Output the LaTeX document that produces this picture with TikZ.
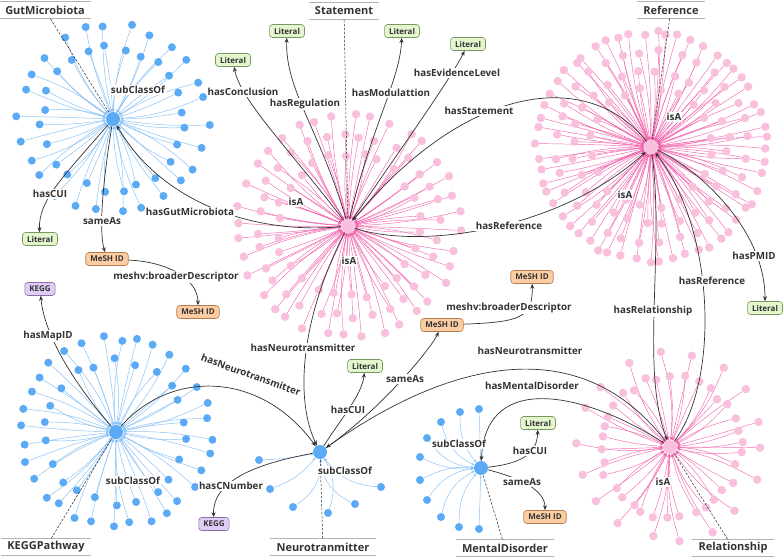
\documentclass[tikz,border=0pt]{standalone}
\usepackage{fontspec}
\setmainfont{Open Sans}
\usetikzlibrary{arrows.meta}

\definecolor{dotblue}{RGB}{90,170,245}
\definecolor{lineblue}{RGB}{140,195,245}
\definecolor{dotpink}{RGB}{249,192,221}
\definecolor{linepink}{RGB}{242,105,176}
\definecolor{edgegray}{RGB}{51,51,51}
\definecolor{litfill}{RGB}{228,246,206}
\definecolor{litdraw}{RGB}{120,150,95}
\definecolor{meshfill}{RGB}{252,205,162}
\definecolor{meshdraw}{RGB}{180,125,80}
\definecolor{keggfill}{RGB}{224,205,245}
\definecolor{keggdraw}{RGB}{135,112,165}

\tikzset{
  hubb/.style={circle, fill=dotblue, inner sep=0pt, minimum size=14pt},
  hubp/.style={circle, fill=dotpink, inner sep=0pt, minimum size=14pt},
  leafb/.style={circle, fill=dotblue, inner sep=0pt, minimum size=8pt},
  leafp/.style={circle, fill=dotpink, inner sep=0pt, minimum size=8.5pt},
  spokeb/.style={draw=lineblue, line width=0.5pt, -{Stealth[length=3pt, width=2.6pt]}},
  spokep/.style={draw=linepink, line width=0.45pt, -{Stealth[length=3pt, width=2.6pt]}},
  propedge/.style={draw=edgegray, line width=0.7pt, -{Stealth[length=5pt, width=4pt]}},
  plabel/.style={fill=white, inner sep=1pt, text=edgegray, font=\bfseries\fontsize{9.8}{11}\selectfont},
  classname/.style={text=edgegray, inner xsep=6pt, inner ysep=0pt, minimum height=17pt, font=\bfseries\fontsize{11}{13}\selectfont},
  classrule/.style={draw=gray!60, line width=0.8pt},
  classlink/.style={draw=black!85, line width=0.5pt, dash pattern=on 2.5pt off 1.5pt},
  boxbase/.style={rounded corners=3pt, line width=0.6pt, inner xsep=4.5pt, inner ysep=1pt, minimum height=13pt, text=edgegray, font=\bfseries\fontsize{8}{9}\selectfont},
  litbox/.style={boxbase, draw=litdraw, fill=litfill},
  meshbox/.style={boxbase, draw=meshdraw, fill=meshfill},
  keggbox/.style={boxbase, draw=keggdraw, fill=keggfill},
}

\begin{document}
\begin{tikzpicture}[x=1pt, y=-1pt]
    \useasboundingbox (0,0) rectangle (784,558);
    \pgfmathsetseed{17}

    % class hubs
    \node[hubb] (gut) at (113,119) {};
    \node[hubp] (stm) at (348,226) {};
    \node[hubp] (refc) at (651,147) {};
    \node[hubb] (kpw) at (116,432) {};
    \node[hubb] (ntm) at (320,452) {};
    \node[hubb] (mdis) at (481,468) {};
    \node[hubp] (rship) at (670,447) {};

    % instances
    \foreach \rr/\nn/\oo in {94/26/0, 71/24/6} {
        \foreach \i in {1,...,\nn} {
            \pgfmathsetmacro\aa{\oo+\i*(360/\nn)+5*rnd}
            \pgfmathsetmacro\dd{\rr+6*rnd-3}
            \pgfmathsetmacro\bb{20*rnd-10}
            \node[leafb] (gut-\rr-\i) at ([shift={(\aa:\dd)}]gut) {};
            \draw[spokeb] (gut-\rr-\i) to[bend left=\bb] (gut);
        }
    }
    \foreach \rr/\nn/\oo in {94/32/0, 71/22/5} {
        \foreach \i in {1,...,\nn} {
            \pgfmathsetmacro\aa{\oo+\i*(360/\nn)+5*rnd}
            \pgfmathsetmacro\dd{\rr+6*rnd-3}
            \pgfmathsetmacro\bb{20*rnd-10}
            \node[leafb] (kpw-\rr-\i) at ([shift={(\aa:\dd)}]kpw) {};
            \draw[spokeb] (kpw-\rr-\i) to[bend left=\bb] (kpw);
        }
    }
    \foreach \rr/\nn/\oo in {111/36/0, 91/32/5, 71/26/2} {
        \foreach \i in {1,...,\nn} {
            \pgfmathsetmacro\aa{\oo+\i*(360/\nn)+5*rnd}
            \pgfmathsetmacro\dd{\rr+6*rnd-3}
            \pgfmathsetmacro\bb{14*rnd-7}
            \node[leafp] (stm-\rr-\i) at ([shift={(\aa:\dd)}]stm) {};
            \draw[spokep] (stm-\rr-\i) to[bend left=\bb] (stm);
        }
    }
    \foreach \rr/\nn/\oo in {114/56/0, 96/32/4, 77/28/2, 60/20/7} {
        \foreach \i in {1,...,\nn} {
            \pgfmathsetmacro\aa{\oo+\i*(360/\nn)+4*rnd}
            \pgfmathsetmacro\dd{\rr+5*rnd-2.5}
            \pgfmathsetmacro\bb{14*rnd-7}
            \node[leafp] (refc-\rr-\i) at ([shift={(\aa:\dd)}]refc) {};
            \draw[spokep] (refc-\rr-\i) to[bend left=\bb] (refc);
        }
    }
    \foreach \rr/\nn/\oo in {93/18/0, 70/34/4} {
        \foreach \i in {1,...,\nn} {
            \pgfmathsetmacro\aa{\oo+\i*(360/\nn)+5*rnd}
            \pgfmathsetmacro\dd{\rr+6*rnd-3}
            \pgfmathsetmacro\bb{24*rnd-12}
            \node[leafp] (rship-\rr-\i) at ([shift={(\aa:\dd)}]rship) {};
            \draw[spokep] (rship-\rr-\i) to[bend left=\bb] (rship);
        }
    }
    \foreach \dx/\dy/\bb [count=\i] in {-61/8/-5, -50/37/-15, -27/55/-30, 8/61/-25, 35/52/30, 61/35/25} {
        \node[leafb] (ntm-\i) at ([shift={(\dx,\dy)}]ntm) {};
        \draw[spokeb] (ntm-\i) to[bend left=\bb] (ntm);
    }
    \foreach \dx/\dy/\bb [count=\i] in {-21/-56/-20, -2/-59/0, -40/-46/-25, -54/-30/-25, -61/-11/-15, -61/12/15, -54/32/25, -40/49/25, -22/59/20, -2/61/0} {
        \node[leafb] (mdis-\i) at ([shift={(\dx,\dy)}]mdis) {};
        \draw[spokeb] (mdis-\i) to[bend left=\bb] (mdis);
    }

    % value boxes
    \node[litbox] (lit1) at (40,239) {Literal};
    \node[litbox] (lit2) at (233,60) {Literal};
    \node[litbox] (lit3) at (287,31) {Literal};
    \node[litbox] (lit4) at (402,31) {Literal};
    \node[litbox] (lit5) at (468,44) {Literal};
    \node[litbox] (lit6) at (765,308) {Literal};
    \node[litbox] (lit7) at (365,366) {Literal};
    \node[litbox] (lit8) at (538,423) {Literal};
    \node[meshbox] (mesh1) at (107,259) {MeSH ID};
    \node[meshbox] (mesh2) at (198,312) {MeSH ID};
    \node[meshbox] (mesh3) at (442,325) {MeSH ID};
    \node[meshbox] (mesh4) at (532,277) {MeSH ID};
    \node[meshbox] (mesh5) at (545,517) {MeSH ID};
    \node[keggbox] (kegg1) at (40,289) {KEGG};
    \node[keggbox] (kegg2) at (214,524) {KEGG};

    % class names
    \node[classname] (tgut) at (45,10) {GutMicrobiota};
    \node[classname] (tstm) at (344,11) {Statement};
    \node[classname] (tref) at (671,10) {Reference};
    \node[classname] (tkpw) at (46,547) {KEGGPathway};
    \node[classname] (tntm) at (323,547) {Neurotranmitter};
    \node[classname] (tmdis) at (505,548) {MentalDisorder};
    \node[classname] (trship) at (733,548) {Relationship};
    \foreach \t/\h in {tgut/gut, tstm/stm, tref/refc, tkpw/kpw, tntm/ntm, tmdis/mdis, trship/rship} {
        \draw[classrule] (\t.north west) -- (\t.north east);
        \draw[classrule] (\t.south west) -- (\t.south east);
        \draw[classlink] (\t) -- (\h);
    }

    % properties
    \draw[propedge] (gut) .. controls (65,175) and (38,200) .. (lit1);
    \draw[propedge] (gut) .. controls (100,200) and (100,235) .. (mesh1);
    \draw[propedge] (stm) .. controls (250,235) and (160,200) .. (gut);
    \draw[propedge] (mesh1) .. controls (170,262) and (198,280) .. (mesh2);
    \draw[propedge] (stm) .. controls (290,150) and (240,100) .. (lit2);
    \draw[propedge] (stm) .. controls (320,130) and (285,90) .. (lit3);
    \draw[propedge] (stm) .. controls (370,130) and (400,80) .. (lit4);
    \draw[propedge] (stm) .. controls (400,150) and (450,80) .. (lit5);
    \draw[propedge] (refc) .. controls (590,70) and (470,80) .. (stm);
    \draw[propedge] (stm) .. controls (420,250) and (560,230) .. (refc);
    \draw[propedge] (stm) .. controls (300,320) and (295,400) .. (ntm);
    \draw[propedge] (refc) .. controls (700,170) and (765,230) .. (lit6);
    \draw[propedge] (rship) .. controls (720,380) and (715,230) .. (refc);
    \draw[propedge] (refc) .. controls (665,250) and (640,370) .. (rship);
    \draw[propedge] (rship) .. controls (580,330) and (450,360) .. (ntm);
    \draw[propedge] (rship) .. controls (590,395) and (486,368) .. (mdis);
    \draw[propedge] (kpw) .. controls (80,390) and (45,340) .. (kegg1);
    \draw[propedge] (kpw) .. controls (170,370) and (260,370) .. (ntm);
    \draw[propedge] (ntm) .. controls (340,420) and (362,395) .. (lit7);
    \draw[propedge] (ntm) .. controls (380,410) and (430,350) .. (mesh3);
    \draw[propedge] (mesh3) .. controls (520,322) and (533,318) .. (mesh4);
    \draw[propedge] (ntm) .. controls (265,462) and (212,478) .. (kegg2);
    \draw[propedge] (mdis) .. controls (525,463) and (537,452) .. (lit8);
    \draw[propedge] (mdis) .. controls (520,478) and (545,490) .. (mesh5);

    % property names
    \node[plabel] (l-gsub) at (138,90) {subClassOf};
    \node[plabel] (l-gcui) at (50,194) {hasCUI};
    \node[plabel] (l-gsame) at (102,221) {sameAs};
    \node[plabel] (l-ggut) at (190,212) {hasGutMicrobiota};
    \node[plabel] (l-gbroad) at (176,277) {meshv:broaderDescriptor};
    \node[plabel] (l-concl) at (243,92) {hasConclusion};
    \node[plabel] (l-regul) at (305,104) {hasRegulation};
    \node[plabel] (l-modul) at (391,93) {hasModulattion};
    \node[plabel] (l-evid) at (457,73) {hasEvidenceLevel};
    \node[plabel] (l-stmt) at (479,111) {hasStatement};
    \node[plabel] (l-sisa1) at (296,202) {isA};
    \node[plabel] (l-sisa2) at (349,261) {isA};
    \node[plabel] (l-sref) at (509,226) {hasReference};
    \node[plabel] (l-sneuro) at (303,348) {hasNeurotransmitter};
    \node[plabel] (l-risa1) at (674,117) {isA};
    \node[plabel] (l-risa2) at (625,195) {isA};
    \node[plabel] (l-pmid) at (754,256) {hasPMID};
    \node[plabel] (l-rref) at (712,281) {hasReference};
    \node[plabel] (l-rrel) at (653,311) {hasRelationship};
    \node[plabel] (l-mapid) at (48,336) {hasMapID};
    \node[plabel] (l-ksub) at (133,481) {subClassOf};
    \node[plabel, fill=none, rotate=-20] (l-kneuro) at (251,375) {hasNeurotransmitter};
    \node[plabel] (l-cnum) at (231,486) {hasCNumber};
    \node[plabel] (l-ncui) at (348,410) {hasCUI};
    \node[plabel] (l-nsame) at (405,379) {sameAs};
    \node[plabel] (l-nsub) at (345,471) {subClassOf};
    \node[plabel] (l-nbroad) at (509,308) {meshv:broaderDescriptor};
    \node[plabel] (l-msub) at (459,444) {subClassOf};
    \node[plabel] (l-mcui) at (530,451) {hasCUI};
    \node[plabel] (l-msame) at (522,482) {sameAs};
    \node[plabel] (l-rneuro) at (530,351) {hasNeurotransmitter};
    \node[plabel] (l-rmental) at (532,386) {hasMentalDisorder};
    \node[plabel] (l-qisa) at (663,482) {isA};
\end{tikzpicture}
\end{document}
